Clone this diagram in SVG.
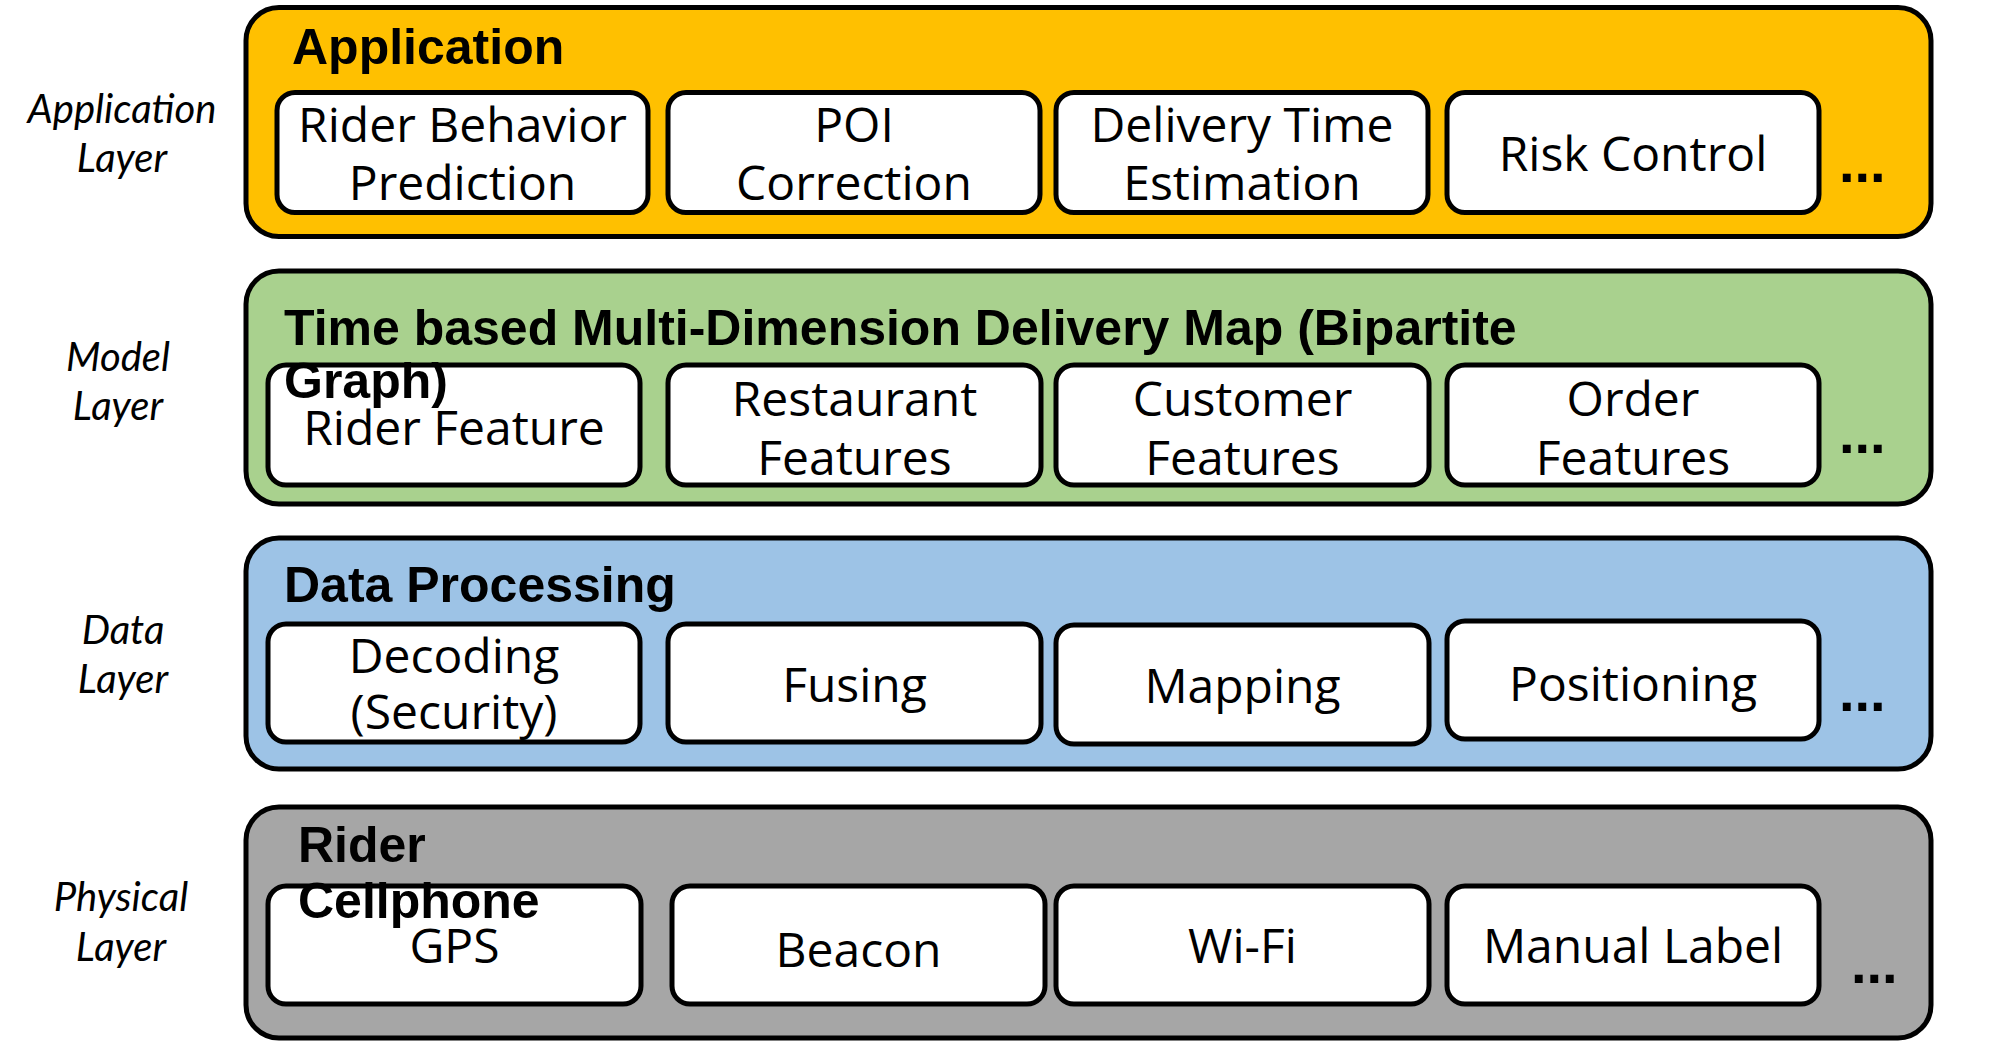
<svg xmlns="http://www.w3.org/2000/svg" width="1995" height="1043" viewBox="0 0 1995 1043">
<style>
.outer{stroke:#000;stroke-width:5}
.inner{fill:#fff;stroke:#000;stroke-width:5}
.title{font-family:"Liberation Sans",Arial,sans-serif;font-weight:bold;font-size:50px;fill:#000}
.lbl{font-family:"Open Sans","Noto Sans",sans-serif;font-size:48px;fill:#000;text-anchor:middle}
.side{font-family:Lato,"Open Sans",sans-serif;font-style:italic;font-size:40px;fill:#000;text-anchor:middle}
.dots{font-family:"Liberation Sans",Arial,sans-serif;font-weight:bold;font-size:56px;fill:#000}
</style>
<rect width="1995" height="1043" fill="#fff"/>
<g id="side-labels">
<text class="side" x="122" y="123">Application</text>
<text class="side" x="122" y="172">Layer</text>
<text class="side" x="118" y="371">Model</text>
<text class="side" x="118" y="420">Layer</text>
<text class="side" x="123" y="644">Data</text>
<text class="side" x="123" y="693">Layer</text>
<text class="side" x="121" y="911">Physical</text>
<text class="side" x="121" y="961">Layer</text>
</g>
<g id="application-layer">
<rect class="outer" x="246" y="7.5" width="1685" height="229" rx="33" fill="#FFC000"/>
</g>
<g id="app-rider-behavior"><rect class="inner" x="277" y="92.5" width="371" height="120" rx="18"/><text class="lbl" x="462.5" y="142">Rider Behavior</text><text class="lbl" x="462.5" y="200">Prediction</text></g>
<g id="app-poi"><rect class="inner" x="668" y="92.5" width="372" height="120" rx="18"/><text class="lbl" x="854" y="142">POI</text><text class="lbl" x="854" y="200">Correction</text></g>
<g id="app-delivery-time"><rect class="inner" x="1056" y="92.5" width="372" height="120" rx="18"/><text class="lbl" x="1242" y="142">Delivery Time</text><text class="lbl" x="1242" y="200">Estimation</text></g>
<g id="app-risk"><rect class="inner" x="1447" y="92.5" width="372" height="120" rx="18"/><text class="lbl" x="1633" y="171">Risk Control</text></g>
<text class="dots" x="1839" y="182">...</text>

<g id="model-layer">
<rect class="outer" x="246" y="271" width="1685" height="233" rx="33" fill="#A9D18E"/>
</g>
<g id="model-rider"><rect class="inner" x="268" y="365" width="372" height="120" rx="18"/><text class="lbl" x="454" y="445">Rider Feature</text></g>
<g id="model-restaurant"><rect class="inner" x="668" y="365" width="373" height="120" rx="18"/><text class="lbl" x="854.5" y="416">Restaurant</text><text class="lbl" x="854.5" y="475">Features</text></g>
<g id="model-customer"><rect class="inner" x="1056" y="365" width="373" height="120" rx="18"/><text class="lbl" x="1242.5" y="416">Customer</text><text class="lbl" x="1242.5" y="475">Features</text></g>
<g id="model-order"><rect class="inner" x="1447" y="365" width="372" height="120" rx="18"/><text class="lbl" x="1633" y="416">Order</text><text class="lbl" x="1633" y="475">Features</text></g>
<text class="dots" x="1839" y="453">...</text>

<g id="data-layer">
<rect class="outer" x="246" y="538" width="1685" height="231" rx="33" fill="#9DC3E6"/>
</g>
<g id="data-decoding"><rect class="inner" x="268" y="624" width="372" height="118" rx="18"/><text class="lbl" x="454" y="673">Decoding</text><text class="lbl" x="454" y="729">(Security)</text></g>
<g id="data-fusing"><rect class="inner" x="668" y="624" width="373" height="118" rx="18"/><text class="lbl" x="854.5" y="702">Fusing</text></g>
<g id="data-mapping"><rect class="inner" x="1056" y="625" width="373" height="119" rx="18"/><text class="lbl" x="1242.5" y="703">Mapping</text></g>
<g id="data-positioning"><rect class="inner" x="1447" y="621" width="372" height="118" rx="18"/><text class="lbl" x="1633" y="701">Positioning</text></g>
<text class="dots" x="1839" y="711">...</text>

<g id="physical-layer">
<rect class="outer" x="246" y="807" width="1685" height="231" rx="33" fill="#A6A6A6"/>
</g>
<g id="phys-gps"><rect class="inner" x="268" y="886" width="373" height="118" rx="18"/><text class="lbl" x="454.5" y="963">GPS</text></g>
<g id="phys-beacon"><rect class="inner" x="672" y="886" width="373" height="118" rx="18"/><text class="lbl" x="858.5" y="967">Beacon</text></g>
<g id="phys-wifi"><rect class="inner" x="1056" y="886" width="373" height="118" rx="18"/><text class="lbl" x="1242.5" y="963">Wi-Fi</text></g>
<g id="phys-manual"><rect class="inner" x="1447" y="886" width="372" height="118" rx="18"/><text class="lbl" x="1633" y="963">Manual Label</text></g>
<text class="dots" x="1851" y="983">...</text>

<g id="layer-titles">
<text class="title" x="292" y="64">Application</text>
<text class="title" x="284" y="345">Time based Multi-Dimension Delivery Map (Bipartite</text>
<text class="title" x="284" y="398">Graph)</text>
<text class="title" x="284" y="602">Data Processing</text>
<text class="title" x="298" y="862">Rider</text>
<text class="title" x="298" y="918">Cellphone</text>
</g>
<g id="connectors"/>
</svg>
